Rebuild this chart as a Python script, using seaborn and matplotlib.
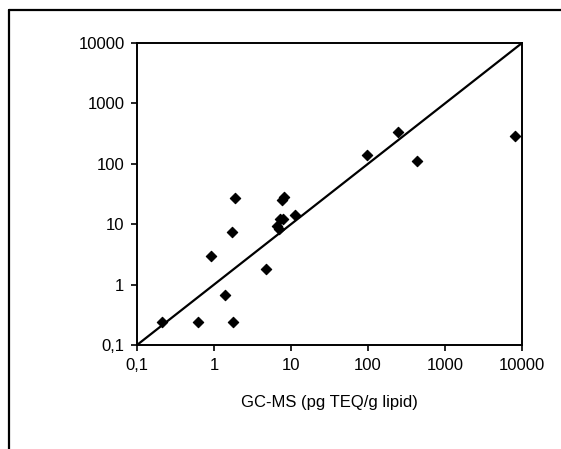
import matplotlib
matplotlib.use("Agg")
import matplotlib.pyplot as plt
import seaborn as sns
import pandas as pd
from matplotlib.lines import Line2D
from matplotlib.ticker import FixedLocator, NullLocator

# GC-MS vs bioassay TEQ values (log-log)
gcms = [0.21, 0.62, 1.75, 1.37, 0.92, 4.7, 1.72, 1.89, 7.7, 8.0, 7.9, 6.6, 6.95, 11.3, 7.2,
        97, 247, 427, 8100]
other = [0.24, 0.24, 0.24, 0.68, 2.96, 1.78, 7.55, 26.8, 25.4, 28.0, 12.4, 9.4, 8.3, 14.1, 12.0,
         141, 337, 113, 289]

tick_vals = [0.1, 1, 10, 100, 1000, 10000]
tick_labels = ["0,1", "1", "10", "100", "1000", "10000"]
x_label = "GC-MS (pg TEQ/g lipid)"

df = pd.DataFrame({"gcms": gcms, "other": other})
line_df = pd.DataFrame({"x": [tick_vals[0], tick_vals[-1]], "y": [tick_vals[0], tick_vals[-1]]})

sns.set_style("ticks", {"text.color": "black", "xtick.color": "black", "ytick.color": "black",
                        "axes.labelcolor": "black", "axes.edgecolor": "black"})
plt.rcParams["font.family"] = ["Liberation Sans", "DejaVu Sans"]

fig = plt.figure(figsize=(5.61, 4.49), dpi=100)
ax = fig.add_axes([137 / 561, 1 - 345 / 449, (522 - 137) / 561, (345 - 43) / 449])

sns.lineplot(data=line_df, x="x", y="y", color="black", linewidth=1.6, ax=ax)
sns.scatterplot(data=df, x="gcms", y="other", marker="D", s=28, color="black",
                edgecolor="black", linewidth=0.8, ax=ax, zorder=3)

ax.set_xscale("log")
ax.set_yscale("log")
ax.set_xlim(tick_vals[0], tick_vals[-1])
ax.set_ylim(tick_vals[0], tick_vals[-1])
ax.xaxis.set_major_locator(FixedLocator(tick_vals))
ax.yaxis.set_major_locator(FixedLocator(tick_vals))
ax.xaxis.set_minor_locator(NullLocator())
ax.yaxis.set_minor_locator(NullLocator())
ax.set_xticklabels(tick_labels, fontsize=12, color="black")
ax.set_yticklabels(tick_labels, fontsize=12, color="black")
ax.tick_params(length=4, width=1.2, color="black", pad=5)

ax.set_xlabel(x_label, fontsize=12, labelpad=16, color="black")
ax.set_ylabel("")

for sp in ax.spines.values():
    sp.set_visible(True)
    sp.set_color("black")
    sp.set_linewidth(1.4)

# scan frame: left and top edges only
fig.add_artist(Line2D([9 / 561, 9 / 561], [0, 1 - 10 / 449], transform=fig.transFigure,
                      color="black", linewidth=1.6))
fig.add_artist(Line2D([9 / 561, 1], [1 - 10 / 449, 1 - 10 / 449], transform=fig.transFigure,
                      color="black", linewidth=1.6))

fig.savefig("out.png", dpi=100, facecolor="white")
